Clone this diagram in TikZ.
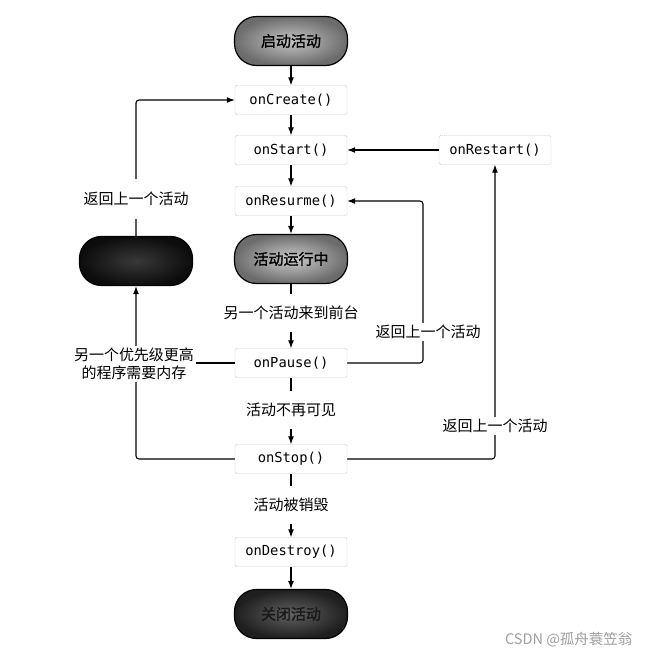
\documentclass[tikz,border=0pt]{standalone}
\usepackage{fontspec}
\usetikzlibrary{arrows.meta,backgrounds}
\newfontfamily\cjk{Noto Sans CJK SC}
\newfontfamily\cjkb[FakeBold=1.5]{Noto Sans CJK SC}
\newfontfamily\mono{DejaVu Sans Mono}
\begin{document}
\begin{tikzpicture}[x=1pt,y=-1pt,
  box/.style={draw=gray!60, dash pattern=on 1.2pt off 0.8pt, rounded corners=2pt, minimum width=112pt, minimum height=29pt, inner sep=0pt, font=\mono\fontsize{13.8}{16}\selectfont, fill=white},
  pill/.style={draw=black, line width=1.2pt, rounded corners=22pt, minimum width=113pt, minimum height=49pt, inner sep=0pt, font=\cjkb\fontsize{15}{18}\selectfont},
  lbl/.style={fill=white, font=\cjk\fontsize{15}{18}\selectfont, inner xsep=2pt, inner ysep=3pt},
  conn/.style={draw=black, line width=1.1pt, rounded corners=3pt},
  arr/.style={conn, -{Latex[length=8pt,width=6pt]}}
]
\useasboundingbox (0,0) rectangle (651,662);

% main column
\node[pill, inner color=gray!45, outer color=gray!85!black] (start) at (291,41) {启动活动};
\node[box] (create) at (291,100) {onCreate()};
\node[box] (startm) at (291,150) {onStart()};
\node[box] (resume) at (291,201) {onResurme()};
\node[pill, inner color=gray!40, outer color=gray!85!black] (run) at (291,259) {活动运行中};
\node[box] (pause) at (291,363) {onPause()};
\node[box] (stop) at (291,459) {onStop()};
\node[box] (destroy) at (291,552) {onDestroy()};
\node[pill, inner color=black!62, outer color=black!88, text=black!90] (close) at (291,614) {关闭活动};

% side nodes
\node[box] (restart) at (495,150) {onRestart()};
\node[pill, inner color=black!78, outer color=black!95] (dark) at (136,261) {};

% labels
\node[lbl, inner ysep=13pt] (lback) at (136,199) {返回上一个活动};
\node[lbl, align=center, inner ysep=2pt] (lmem) at (134,364) {另一个优先级更高\\的程序需要内存};
\node[lbl, inner ysep=12pt] (lfront) at (291,313) {另一个活动来到前台};
\node[lbl, inner ysep=12pt] (linvis) at (291,410) {活动不再可见};
\node[lbl, inner ysep=12pt] (ldestroy) at (291,505) {活动被销毁};
\node[lbl, inner ysep=2pt] (lback2) at (428,332) {返回上一个活动};
\node[lbl, inner ysep=2pt] (lback3) at (495,426) {返回上一个活动};

\node[anchor=east, text=gray!75, font=\cjk\fontsize{14.5}{16}\selectfont] (wm) at (636,640) {CSDN @孤舟蓑笠翁};

\coordinate (pr) at (423,0);

\begin{pgfonlayer}{background}
\fill[white] (0,0) rectangle (651,662);
\draw[arr] (start) -- (create);
\draw[arr] (create) -- (startm);
\draw[arr] (startm) -- (resume);
\draw[arr] (resume) -- (run);
\draw[arr] (run) -- (pause);
\draw[arr] (pause) -- (stop);
\draw[arr] (stop) -- (destroy);
\draw[arr] (destroy) -- (close);
\draw[arr] (restart.west) -- (startm.east);
\draw[arr] (dark.north) |- (create.west);
\draw[arr] (stop.west) -| (dark.south);
\draw[conn] (pause.west) -- (pause.west -| lmem.east);
\draw[arr] (pause.east) -- (pause.east -| pr) |- (resume.east);
\draw[arr] (stop.east) -| (restart.south);
\end{pgfonlayer}
\end{tikzpicture}
\end{document}
